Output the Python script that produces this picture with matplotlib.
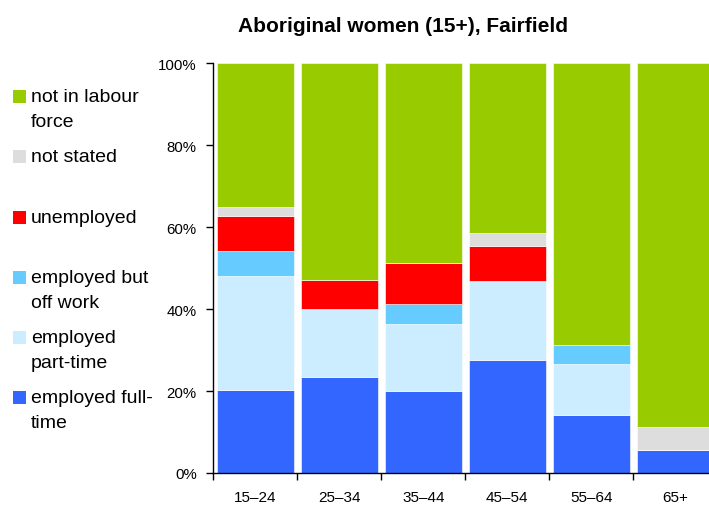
import matplotlib
matplotlib.use("Agg")
import matplotlib.pyplot as plt
from matplotlib.patches import Rectangle
import numpy as np

plt.rcParams['font.family'] = ['Liberation Sans', 'DejaVu Sans']

categories = ["15–24", "25–34", "35–44", "45–54", "55–64", "65+"]
full_time = [20.3, 23.4, 20.0, 27.7, 14.1, 5.7]
part_time = [27.7, 16.6, 16.3, 19.1, 12.5, 0.0]
off_work = [6.1, 0.0, 5.0, 0.0, 4.7, 0.0]
unemployed = [8.7, 7.0, 10.0, 8.5, 0.0, 0.0]
not_stated = [2.1, 0.0, 0.0, 3.3, 0.0, 5.5]
not_in_lf = [35.1, 53.0, 48.7, 41.4, 68.7, 88.8]

series = [
    ("employed full-\ntime", full_time, "#3366FF"),
    ("employed\npart-time", part_time, "#CCECFF"),
    ("employed but\noff work", off_work, "#66CCFF"),
    ("unemployed", unemployed, "#FF0000"),
    ("not stated", not_stated, "#DDDDDD"),
    ("not in labour\nforce", not_in_lf, "#99CC00"),
]

W, H = 709, 506
fig = plt.figure(figsize=(W / 100, H / 100), dpi=100)
left, right, top, bottom = 213.3, 717.3, 64.3, 474.0
ax = fig.add_axes([left / W, 1 - bottom / H, (right - left) / W, (bottom - top) / H])

x = np.arange(len(categories))
base = np.zeros(len(categories))
for name, vals, col in series:
    v = np.array(vals)
    ax.bar(x, v, bottom=base, width=0.91, color=col, edgecolor="white", linewidth=0.4)
    base += v

ax.set_xlim(-0.5, len(categories) - 0.5)
ax.set_ylim(0, 100)
ax.set_yticks([0, 20, 40, 60, 80, 100])
ax.set_yticklabels(["0%", "20%", "40%", "60%", "80%", "100%"], fontsize=10.8)
ax.set_xticks(x)
ax.set_xticklabels(categories, fontsize=11)
ax.set_xticks(np.arange(-0.5, len(categories), 1), minor=True)
ax.tick_params(axis='x', which='major', length=0, pad=12)
ax.tick_params(axis='x', which='minor', length=5, width=1, direction='out')
ax.tick_params(axis='y', length=5, width=1, direction='out', pad=7)
for s in ["top", "right"]:
    ax.spines[s].set_visible(False)
for s in ["left", "bottom"]:
    ax.spines[s].set_linewidth(1)
    ax.spines[s].set_color("black")

fig.text(403 / W, 1 - 27 / H, "Aboriginal women (15+), Fairfield", ha="center", va="center",
         fontsize=15, fontweight="bold")

# manual legend
centers = [97, 157.5, 218, 278, 338, 398]
order = list(reversed(series))
for (name, vals, col), cy in zip(order, centers):
    sq = 13
    fig.patches.append(Rectangle((13 / W, 1 - (cy + sq / 2) / H), sq / W, sq / H,
                                 transform=fig.transFigure, facecolor=col, edgecolor="none"))
    fig.text(31 / W, 1 - (cy - 8) / H, name, ha="left", va="top", fontsize=14,
             linespacing=1.65)

fig.savefig("out.png", dpi=100)
